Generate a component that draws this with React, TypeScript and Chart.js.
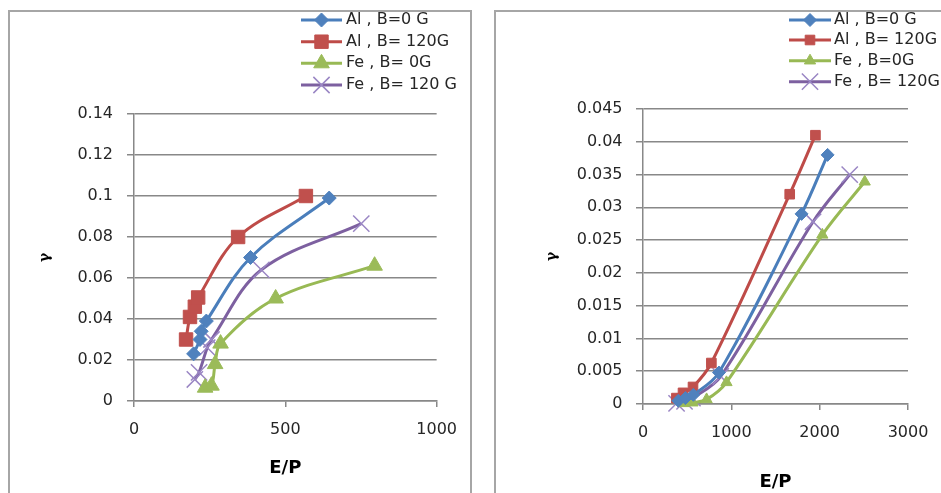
import React, { useEffect, useRef } from 'react';
import { Chart, registerables } from 'chart.js';
import { drawPoint } from 'chart.js/helpers';

Chart.register(...registerables);

// ---------- Left panel data ----------
const leftLabels = ['Al , B=0 G', 'Al , B= 120G', 'Fe , B= 0G', 'Fe , B= 120 G'];
const leftAl0X = [197, 218, 222, 239, 385, 645];
const leftAl0Y = [0.023, 0.030, 0.034, 0.039, 0.070, 0.099];
const leftAl120X = [172, 185, 201, 212, 344, 568];
const leftAl120Y = [0.030, 0.041, 0.046, 0.0505, 0.080, 0.100];
const leftFe0X = [235, 256, 268, 286, 468, 795];
const leftFe0Y = [0.0065, 0.0075, 0.018, 0.028, 0.050, 0.066];
const leftFe120X = [201, 215, 242, 256, 421, 751];
const leftFe120Y = [0.0105, 0.014, 0.026, 0.030, 0.064, 0.0865];
const leftXTicks = [0, 500, 1000];
const leftYTicks = [0, 0.02, 0.04, 0.06, 0.08, 0.1, 0.12, 0.14];

// ---------- Right panel data ----------
const rightLabels = ['Al , B=0 G', 'Al , B= 120G', 'Fe , B=0G', 'Fe , B= 120G'];
const rightAl0X = [400, 480, 570, 860, 1795, 2090];
const rightAl0Y = [0.0005, 0.0009, 0.0014, 0.0048, 0.029, 0.038];
const rightAl120X = [378, 453, 566, 774, 1661, 1952];
const rightAl120Y = [0.0009, 0.0017, 0.0026, 0.00625, 0.032, 0.041];
const rightFe0X = [460, 560, 720, 945, 2030, 2510];
const rightFe0Y = [0.0001, 0.0002, 0.0007, 0.0033, 0.0258, 0.0339];
const rightFe120X = [380, 470, 560, 880, 1925, 2340];
const rightFe120Y = [0.0001, 0.0004, 0.0009, 0.0042, 0.0278, 0.035];
const rightXTicks = [0, 1000, 2000, 3000];
const rightYTicks = [0, 0.005, 0.01, 0.015, 0.02, 0.025, 0.03, 0.035, 0.04, 0.045];

// ---------- Styles ----------
const LINE_COLORS = ['#4A7EBB', '#BE4B48', '#98B954', '#7D60A0'];
const MARKER_FILLS = ['#4F81BD', '#C0504D', '#9BBB59', '#8E78B8'];
const MARKER_STYLES = ['rectRot', 'rect', 'triangle', 'crossRot'];
const GRID = '#888888';
const TEXT = '#262626';

Chart.defaults.font.family = '"DejaVu Sans", Verdana, sans-serif';

type Panel = {
  labels: string[];
  xs: number[][];
  ys: number[][];
  xTicks: number[];
  yTicks: number[];
  radii: number[];
  width: number;
  height: number;
  padding: { top: number; left: number; right: number; bottom: number };
  yAxisWidth: number;
  xAxisHeight: number;
  yTickPad: number;
  xTickPad: number;
  yTitlePad: number;
  xTitlePad: number;
  legend: { lineX0: number; lineX1: number; textX: number; rows: number[] };
};

const leftPanel: Panel = {
  labels: leftLabels,
  xs: [leftAl0X, leftAl120X, leftFe0X, leftFe120X],
  ys: [leftAl0Y, leftAl120Y, leftFe0Y, leftFe120Y],
  xTicks: leftXTicks,
  yTicks: leftYTicks,
  radii: [7, 9.5, 9, 11.5],
  width: 460,
  height: 520,
  padding: { top: 102, left: 0, right: 33, bottom: 51 },
  yAxisWidth: 124,
  xAxisHeight: 80,
  yTickPad: 14,
  xTickPad: 13,
  yTitlePad: 26.6,
  xTitlePad: 2.2,
  legend: { lineX0: 291, lineX1: 332, textX: 336, rows: [8, 29.7, 51.3, 73] },
};

const rightPanel: Panel = {
  labels: rightLabels,
  xs: [rightAl0X, rightAl120X, rightFe0X, rightFe120X],
  ys: [rightAl0Y, rightAl120Y, rightFe0Y, rightFe120Y],
  xTicks: rightXTicks,
  yTicks: rightYTicks,
  radii: [6.5, 6.8, 6.5, 11.5],
  width: 450,
  height: 520,
  padding: { top: 97, left: 0, right: 38, bottom: 37 },
  yAxisWidth: 147,
  xAxisHeight: 91,
  yTickPad: 13.5,
  xTickPad: 13,
  yTitlePad: 47.6,
  xTitlePad: 2.2,
  legend: { lineX0: 293, lineX1: 335, textX: 338, rows: [8, 28, 48.7, 69.7] },
};

const fmt = (v: number) => String(+Number(v).toFixed(4));

function buildChart(canvas: HTMLCanvasElement, p: Panel) {
  const datasets = p.xs.map((xs, i) => ({
    label: p.labels[i],
    data: xs.map((x, j) => ({ x, y: p.ys[i][j] })),
    showLine: true,
    borderColor: LINE_COLORS[i],
    backgroundColor: MARKER_FILLS[i],
    borderWidth: 3,
    tension: 0.35,
    pointStyle: MARKER_STYLES[i],
    pointRadius: p.radii[i],
    pointHoverRadius: p.radii[i],
    pointBackgroundColor: MARKER_FILLS[i],
    pointBorderColor: i === 3 ? '#9A86C4' : MARKER_FILLS[i],
    pointBorderWidth: i === 3 ? 1.5 : 1,
    clip: false as any,
  }));

  const sideLegend = {
    id: 'sideLegend',
    afterDraw(chart: any) {
      const ctx = chart.ctx as CanvasRenderingContext2D;
      const L = p.legend;
      ctx.save();
      chart.data.datasets.forEach((ds: any, i: number) => {
        const y = L.rows[i];
        ctx.beginPath();
        ctx.strokeStyle = ds.borderColor;
        ctx.lineWidth = ds.borderWidth;
        ctx.moveTo(L.lineX0, y);
        ctx.lineTo(L.lineX1, y);
        ctx.stroke();
        ctx.fillStyle = ds.pointBackgroundColor;
        ctx.strokeStyle = ds.pointBorderColor;
        ctx.lineWidth = ds.pointBorderWidth;
        drawPoint(ctx, { pointStyle: ds.pointStyle, radius: ds.pointRadius, rotation: 0, borderWidth: ds.pointBorderWidth } as any, (L.lineX0 + L.lineX1) / 2, y);
        ctx.fillStyle = TEXT;
        ctx.font = '16px "DejaVu Sans", Verdana, sans-serif';
        ctx.textAlign = 'left';
        ctx.textBaseline = 'middle';
        ctx.fillText(ds.label, L.textX, y);
      });
      ctx.restore();
    },
  };

  const xMin = p.xTicks[0];
  const xMax = p.xTicks[p.xTicks.length - 1];
  const yMin = p.yTicks[0];
  const yMax = p.yTicks[p.yTicks.length - 1];

  return new Chart(canvas, {
    type: 'scatter',
    data: { datasets },
    plugins: [sideLegend],
    options: {
      responsive: false,
      animation: false,
      events: [],
      layout: { padding: p.padding },
      plugins: {
        legend: { display: false },
        tooltip: { enabled: false },
        title: { display: false },
      },
      scales: {
        x: {
          type: 'linear',
          min: xMin,
          max: xMax,
          afterBuildTicks: (s: any) => { s.ticks = p.xTicks.map((v) => ({ value: v })); },
          afterFit: (s: any) => { s.height = p.xAxisHeight; },
          ticks: {
            color: TEXT,
            font: { size: 16 },
            padding: p.xTickPad,
            maxRotation: 0,
            autoSkip: false,
            callback: (v: any) => fmt(v),
          },
          grid: { drawOnChartArea: false, drawTicks: true, tickLength: 6, color: GRID, lineWidth: 1.5 },
          border: { display: true, color: GRID, width: 1.5 },
          title: {
            display: true,
            text: 'E/P',
            color: '#000',
            font: { size: 18, weight: 'bold' },
            padding: { top: 0, bottom: p.xTitlePad },
          },
        },
        y: {
          type: 'linear',
          min: yMin,
          max: yMax,
          afterBuildTicks: (s: any) => { s.ticks = p.yTicks.map((v) => ({ value: v })); },
          afterFit: (s: any) => { s.width = p.yAxisWidth; },
          ticks: {
            color: TEXT,
            font: { size: 16 },
            padding: p.yTickPad,
            autoSkip: false,
            callback: (v: any) => fmt(v),
          },
          grid: { drawTicks: true, tickLength: 7, color: GRID, lineWidth: 1.5 },
          border: { display: true, color: GRID, width: 1.5 },
          title: {
            display: true,
            text: 'γ',
            color: '#000',
            font: { family: '"DejaVu Serif", "Liberation Serif", serif', size: 14, weight: 'bold' },
            padding: { top: p.yTitlePad, bottom: 0 },
          },
        },
      },
    } as any,
  });
}

function ChartPanel({ panel }: { panel: Panel }) {
  const ref = useRef<HTMLCanvasElement | null>(null);
  useEffect(() => {
    if (!ref.current) return;
    const chart = buildChart(ref.current, panel);
    return () => chart.destroy();
  }, [panel]);
  return (
    <canvas
      ref={ref}
      width={panel.width}
      height={panel.height}
      style={{ display: 'block', width: panel.width, height: panel.height }}
    />
  );
}

export default function App() {
  const border = '2px solid #a6a6a6';
  return (
    <div
      style={{
        position: 'fixed',
        left: 0,
        top: 0,
        width: 941,
        height: 493,
        overflow: 'hidden',
        background: '#fff',
      }}
    >
      <div style={{ position: 'absolute', left: 8, top: 10, border, borderBottom: 'none', width: 460, height: 520 }}>
        <ChartPanel panel={leftPanel} />
      </div>
      <div style={{ position: 'absolute', left: 494, top: 10, border, borderBottom: 'none', width: 460, height: 520 }}>
        <ChartPanel panel={rightPanel} />
      </div>
    </div>
  );
}
